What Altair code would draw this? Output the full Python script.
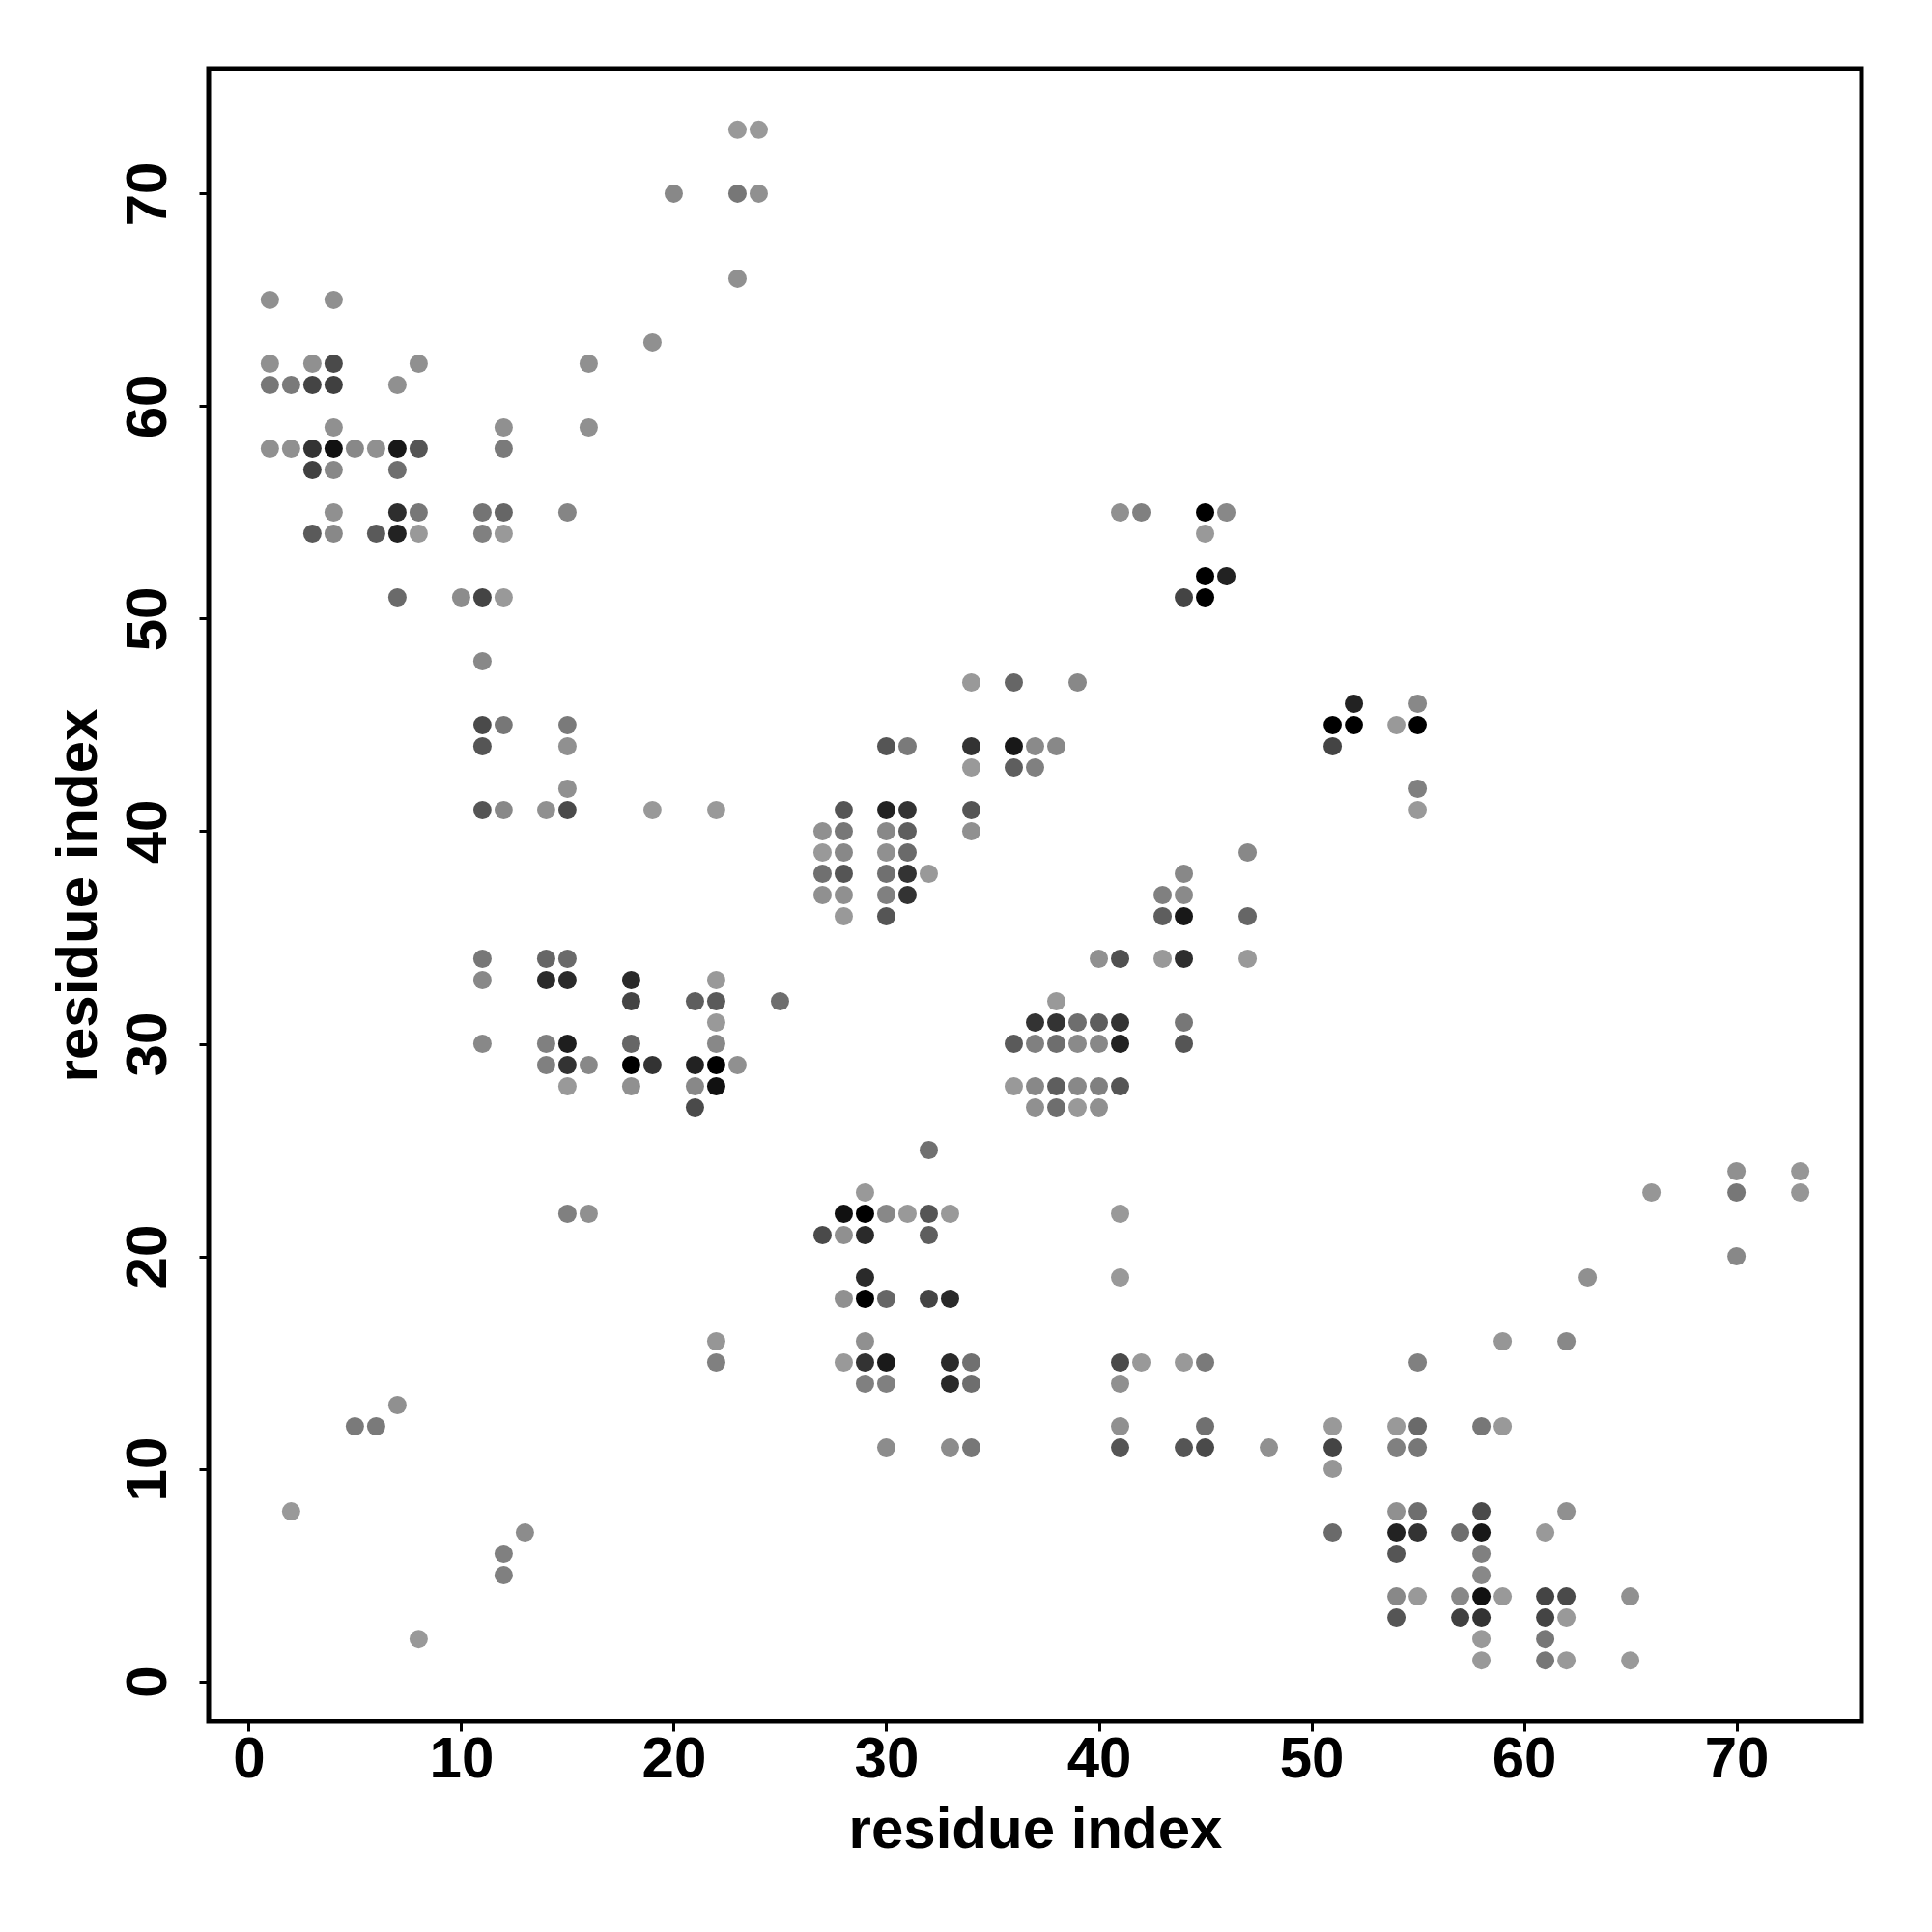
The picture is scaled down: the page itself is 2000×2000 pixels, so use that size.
import altair as alt
import pandas as pd

# Each entry: (residue index i, residue index j, grey level: 0 = black ... 153 = light grey)
upper_left = [
    (23, 73, 153), (24, 73, 153),
    (20, 70, 136), (23, 70, 119), (24, 70, 144),
    (23, 66, 144),
    (1, 65, 144), (4, 65, 144),
    (19, 63, 144),
    (1, 62, 144), (3, 62, 144), (4, 62, 74), (8, 62, 144), (16, 62, 144),
    (1, 61, 119), (2, 61, 122), (3, 61, 68), (4, 61, 64), (7, 61, 144),
    (4, 59, 144), (12, 59, 144), (16, 59, 144),
    (1, 58, 144), (2, 58, 144), (3, 58, 51), (4, 58, 17), (5, 58, 136), (6, 58, 144),
    (7, 58, 24), (8, 58, 85), (12, 58, 122),
    (3, 57, 64), (4, 57, 136), (7, 57, 110),
    (4, 55, 144), (7, 55, 46), (8, 55, 119), (11, 55, 116), (12, 55, 102), (15, 55, 133),
    (3, 54, 90), (4, 54, 136), (6, 54, 90), (7, 54, 34), (8, 54, 153), (11, 54, 128), (12, 54, 153),
    (7, 51, 106), (10, 51, 140), (11, 51, 68), (12, 51, 153),
]

upper_mid = [
    (41, 55, 144), (42, 55, 128), (45, 55, 0), (46, 55, 136),
    (45, 54, 153),
    (45, 52, 0), (46, 52, 34),
    (44, 51, 68), (45, 51, 0),
]

mid_left = [
    (11, 48, 136),
    (11, 45, 74), (12, 45, 119), (15, 45, 122),
    (11, 44, 85), (15, 44, 144),
    (15, 42, 144),
    (11, 41, 85), (12, 41, 136), (14, 41, 144), (15, 41, 74), (19, 41, 153), (22, 41, 153),
    (11, 34, 119), (14, 34, 102), (15, 34, 106),
    (11, 33, 136), (14, 33, 42), (15, 33, 42), (18, 33, 42), (22, 33, 153),
    (18, 32, 68), (21, 32, 94), (22, 32, 90), (25, 32, 110),
    (22, 31, 153),
    (11, 30, 136), (14, 30, 128), (15, 30, 30), (18, 30, 102), (22, 30, 136),
    (14, 29, 128), (15, 29, 51), (16, 29, 136), (18, 29, 0), (19, 29, 51), (21, 29, 34),
    (22, 29, 0), (23, 29, 144),
    (15, 28, 153), (18, 28, 144), (21, 28, 136), (22, 28, 17),
    (21, 27, 74),
]

centre = [
    (34, 47, 153), (36, 47, 102), (39, 47, 136),
    (30, 44, 85), (31, 44, 122), (34, 44, 51), (36, 44, 24), (37, 44, 138), (38, 44, 136),
    (34, 43, 153), (36, 43, 94), (37, 43, 128),
    (28, 41, 85), (30, 41, 34), (31, 41, 51), (34, 41, 85),
    (27, 40, 144), (28, 40, 119), (30, 40, 136), (31, 40, 94), (34, 40, 144),
    (27, 39, 153), (28, 39, 136), (30, 39, 144), (31, 39, 106), (47, 39, 136),
    (27, 38, 112), (28, 38, 85), (30, 38, 112), (31, 38, 51), (32, 38, 153), (44, 38, 136),
    (27, 37, 144), (28, 37, 144), (30, 37, 128), (31, 37, 51), (43, 37, 128), (44, 37, 138),
    (28, 36, 153), (30, 36, 85), (43, 36, 94), (44, 36, 24), (47, 36, 102),
    (40, 34, 144), (41, 34, 80), (43, 34, 153), (44, 34, 46), (47, 34, 153),
    (38, 32, 153),
    (37, 31, 51), (38, 31, 51), (39, 31, 110), (40, 31, 94), (41, 31, 51), (44, 31, 119),
    (36, 30, 90), (37, 30, 128), (38, 30, 110), (39, 30, 138), (40, 30, 136), (41, 30, 34), (44, 30, 85),
    (36, 28, 153), (37, 28, 136), (38, 28, 94), (39, 28, 136), (40, 28, 128), (41, 28, 85),
    (37, 27, 144), (38, 27, 110), (39, 27, 153), (40, 27, 144),
    (32, 25, 112),
    (29, 23, 153),
]

mid_right = [
    (52, 46, 34), (51, 45, 0), (52, 45, 0), (51, 44, 68),
    (55, 46, 136), (54, 45, 153), (55, 45, 0), (55, 42, 128), (55, 41, 153),
    (66, 23, 150), (70, 24, 144), (70, 23, 119), (73, 24, 150), (73, 23, 150),
]

lower_left = [
    (15, 22, 128), (16, 22, 144),
    (22, 16, 150), (22, 15, 128),
    (7, 13, 144), (5, 12, 122), (6, 12, 122),
    (2, 8, 153), (13, 7, 140), (12, 6, 128), (12, 5, 128), (8, 2, 153),
]

lower_mid = [
    (28, 22, 17), (29, 22, 0), (30, 22, 136), (31, 22, 153), (32, 22, 85), (33, 22, 153), (41, 22, 153),
    (27, 21, 74), (28, 21, 144), (29, 21, 42), (32, 21, 94),
    (29, 19, 42), (41, 19, 153),
    (28, 18, 144), (29, 18, 0), (30, 18, 102), (32, 18, 68), (33, 18, 42),
    (29, 16, 144),
    (28, 15, 153), (29, 15, 51), (30, 15, 26), (33, 15, 42), (34, 15, 112),
    (41, 15, 74), (42, 15, 153), (44, 15, 153), (45, 15, 122),
    (29, 14, 128), (30, 14, 128), (33, 14, 42), (34, 14, 110), (41, 14, 144),
    (41, 12, 144), (45, 12, 112),
    (30, 11, 140), (33, 11, 140), (34, 11, 119), (41, 11, 85), (44, 11, 85), (45, 11, 74), (48, 11, 144),
]

lower_right = [
    (70, 20, 136), (63, 19, 144), (59, 16, 150), (62, 16, 136), (55, 15, 128),
    (51, 12, 153), (54, 12, 153), (55, 12, 106), (58, 12, 119), (59, 12, 153),
    (51, 11, 68), (54, 11, 128), (55, 11, 119),
    (51, 10, 150),
    (54, 8, 144), (55, 8, 110), (58, 8, 74), (62, 8, 144),
    (51, 7, 106), (54, 7, 34), (55, 7, 51), (57, 7, 110), (58, 7, 24), (61, 7, 153),
    (54, 6, 85), (58, 6, 128),
    (58, 5, 136),
    (54, 4, 136), (55, 4, 153), (57, 4, 136), (58, 4, 17), (59, 4, 153), (61, 4, 68), (62, 4, 74), (65, 4, 144),
    (54, 3, 85), (57, 3, 64), (58, 3, 51), (61, 3, 68), (62, 3, 153),
    (58, 2, 153), (61, 2, 119),
    (58, 1, 153), (61, 1, 119), (62, 1, 153), (65, 1, 153),
]

x_ticks = [0, 10, 20, 30, 40, 50, 60, 70]
y_ticks = [0, 10, 20, 30, 40, 50, 60, 70]
axis_title = "residue index"

rows = upper_left + upper_mid + mid_left + centre + mid_right + lower_left + lower_mid + lower_right
df = pd.DataFrame(rows, columns=["i", "j", "grey"])
df["strength"] = (153 - df["grey"]) / 153.0

FONT = "Liberation Sans"
dom = [-1.88, 75.88]

x_axis = alt.Axis(
    values=x_ticks, title=axis_title, grid=False, domain=False,
    tickSize=10, tickWidth=3, tickColor="black",
    labelFont=FONT, labelFontSize=60, labelFontWeight="bold", labelColor="black",
    labelBaseline="alphabetic", labelPadding=47, labelFlush=False, labelOverlap=False,
    titleFont=FONT, titleFontSize=60, titleFontWeight="bold", titleColor="black",
    titleBaseline="alphabetic", titleAlign="center", titleX=855.5, titleY=130,
)
y_axis = alt.Axis(
    values=y_ticks, title=axis_title, grid=False, domain=False,
    tickSize=10, tickWidth=3, tickColor="black",
    labelFont=FONT, labelFontSize=60, labelFontWeight="bold", labelColor="black",
    labelAngle=270, labelAlign="center", labelBaseline="alphabetic", labelPadding=35,
    labelFlush=False, labelOverlap=False,
    titleFont=FONT, titleFontSize=60, titleFontWeight="bold", titleColor="black",
    titleAngle=270, titleBaseline="alphabetic", titleAlign="center", titleX=-117, titleY=855.5,
)

chart = alt.Chart(df).mark_circle(size=361, opacity=1).encode(
    x=alt.X("i:Q", scale=alt.Scale(domain=dom, nice=False, zero=False), axis=x_axis),
    y=alt.Y("j:Q", scale=alt.Scale(domain=dom, nice=False, zero=False), axis=y_axis),
    color=alt.Color("strength:Q",
                    scale=alt.Scale(domain=[0, 1], range=["#999999", "#000000"], interpolate="rgb"),
                    legend=None),
).properties(
    width=1711, height=1711,
    autosize=alt.AutoSizeParams(type="none"),
    padding={"left": 208, "top": 63, "right": 40, "bottom": 180},
    background="white",
).configure_view(stroke="black", strokeWidth=5)

chart.save("out.html", embed_options={"renderer": "svg", "actions": False})
